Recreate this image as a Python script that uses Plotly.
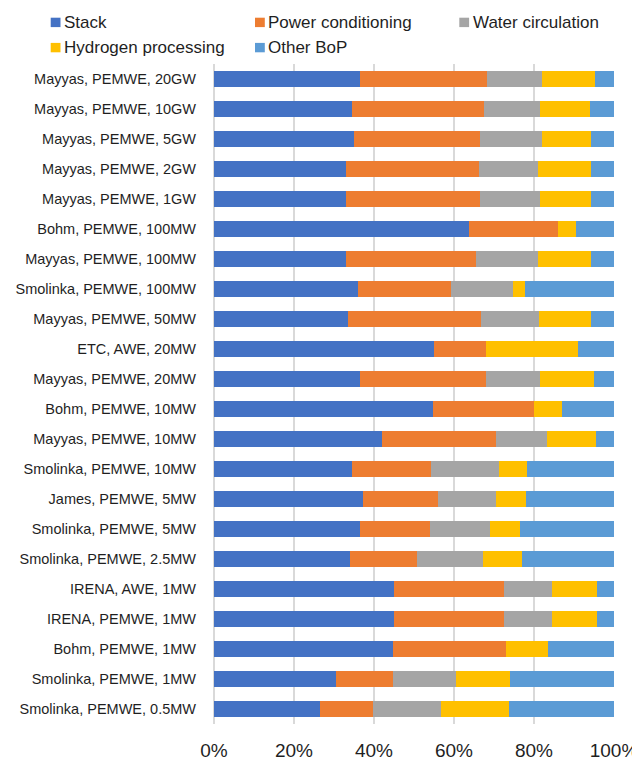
import plotly.graph_objects as go

categories = [
    "Mayyas, PEMWE, 20GW", "Mayyas, PEMWE, 10GW", "Mayyas, PEMWE, 5GW",
    "Mayyas, PEMWE, 2GW", "Mayyas, PEMWE, 1GW", "Bohm, PEMWE, 100MW",
    "Mayyas, PEMWE, 100MW", "Smolinka, PEMWE, 100MW", "Mayyas, PEMWE, 50MW",
    "ETC, AWE, 20MW", "Mayyas, PEMWE, 20MW", "Bohm, PEMWE, 10MW",
    "Mayyas, PEMWE, 10MW", "Smolinka, PEMWE, 10MW", "James, PEMWE, 5MW",
    "Smolinka, PEMWE, 5MW", "Smolinka, PEMWE, 2.5MW", "IRENA, AWE, 1MW",
    "IRENA, PEMWE, 1MW", "Bohm, PEMWE, 1MW", "Smolinka, PEMWE, 1MW",
    "Smolinka, PEMWE, 0.5MW",
]

stack = [36.6, 34.6, 35.1, 32.9, 33.1, 63.8, 33.1, 35.9, 33.6, 54.9, 36.5, 54.8,
         42.1, 34.6, 37.2, 36.6, 34.1, 44.9, 44.9, 44.7, 30.4, 26.6]
power_conditioning = [31.7, 33.0, 31.3, 33.3, 33.3, 22.2, 32.3, 23.4, 33.1, 13.0, 31.4, 25.3,
                      28.4, 19.7, 18.7, 17.4, 16.6, 27.6, 27.6, 28.2, 14.4, 13.1]
water_circulation = [13.8, 14.0, 15.6, 14.9, 15.1, 0.0, 15.5, 15.5, 14.5, 0.0, 13.7, 0.0,
                     12.8, 16.9, 14.7, 14.9, 16.5, 12.1, 12.1, 0.0, 15.8, 17.1]
hydrogen_processing = [13.2, 12.4, 12.2, 13.1, 12.7, 4.4, 13.3, 2.9, 13.0, 23.1, 13.4, 7.0,
                       12.1, 7.1, 7.4, 7.6, 9.7, 11.1, 11.1, 10.5, 13.3, 16.9]
other_bop = [4.7, 6.0, 5.8, 5.8, 5.8, 9.6, 5.8, 22.3, 5.8, 9.0, 5.0, 12.9,
             4.6, 21.7, 22.0, 23.5, 23.1, 4.3, 4.3, 16.6, 26.1, 26.3]

tick_vals = [0, 20, 40, 60, 80, 100]
tick_text = ["0%", "20%", "40%", "60%", "80%", "100%"]

series = [
    ("Stack", stack, "#4472C4"),
    ("Power conditioning", power_conditioning, "#ED7D31"),
    ("Water circulation", water_circulation, "#A5A5A5"),
    ("Hydrogen processing", hydrogen_processing, "#FFC000"),
    ("Other BoP", other_bop, "#5B9BD5"),
]

# Figure geometry (page body adds an 8px offset)
W, H = 632, 752
ML, MR, MT, MB = 206, 26, 56, 36
PW, PH = W - ML - MR, H - MT - MB
OFF = 8


def px(xpage):
    return (xpage - OFF - ML) / PW


def py(ypage):
    return 1 - (ypage - OFF - MT) / PH


fig = go.Figure()
for name, vals, color in series:
    fig.add_trace(go.Bar(
        y=categories, x=vals, name=name, orientation="h",
        marker=dict(color=color, line=dict(width=0)),
        showlegend=False,
    ))

# Legend drawn as squares + text, 3 columns x 2 rows
shapes, annotations = [], []
for i, (name, vals, color) in enumerate(series):
    col, row = i % 3, i // 3
    x0 = 50.7 + col * 204.3
    yc = 22.4 + row * 25.2
    shapes.append(dict(
        type="rect", xref="paper", yref="paper",
        x0=px(x0), x1=px(x0 + 9.8), y0=py(yc - 4.7), y1=py(yc + 4.7),
        fillcolor=color, line=dict(width=0),
    ))
    annotations.append(dict(
        xref="paper", yref="paper", x=px(x0 + 11.2), y=py(yc),
        xanchor="left", yanchor="middle", text=name, showarrow=False,
        font=dict(size=17, color="#1f1f1f"),
    ))

fig.update_layout(
    width=W, height=H,
    barmode="stack", barnorm="percent", bargap=0.45,
    paper_bgcolor="white", plot_bgcolor="white",
    margin=dict(l=ML, r=MR, t=MT, b=MB, autoexpand=False),
    font=dict(family="Liberation Sans, Arial, sans-serif", color="#1f1f1f", size=14),
    showlegend=False,
    shapes=shapes, annotations=annotations,
)
fig.update_yaxes(
    autorange="reversed", categoryorder="array", categoryarray=categories,
    tickfont=dict(size=14.5), ticks="", ticklabelstandoff=17,
    showline=False, showgrid=False, automargin=False,
)
fig.update_xaxes(
    range=[0, 100], tickvals=tick_vals, ticktext=tick_text,
    tickfont=dict(size=19), showgrid=True, gridcolor="#D9D9D9", gridwidth=1.5,
    zeroline=True, zerolinecolor="#D9D9D9", zerolinewidth=1.5,
    showline=False, ticks="", automargin=False, ticklabelstandoff=13,
)

fig.write_html("out.html")
